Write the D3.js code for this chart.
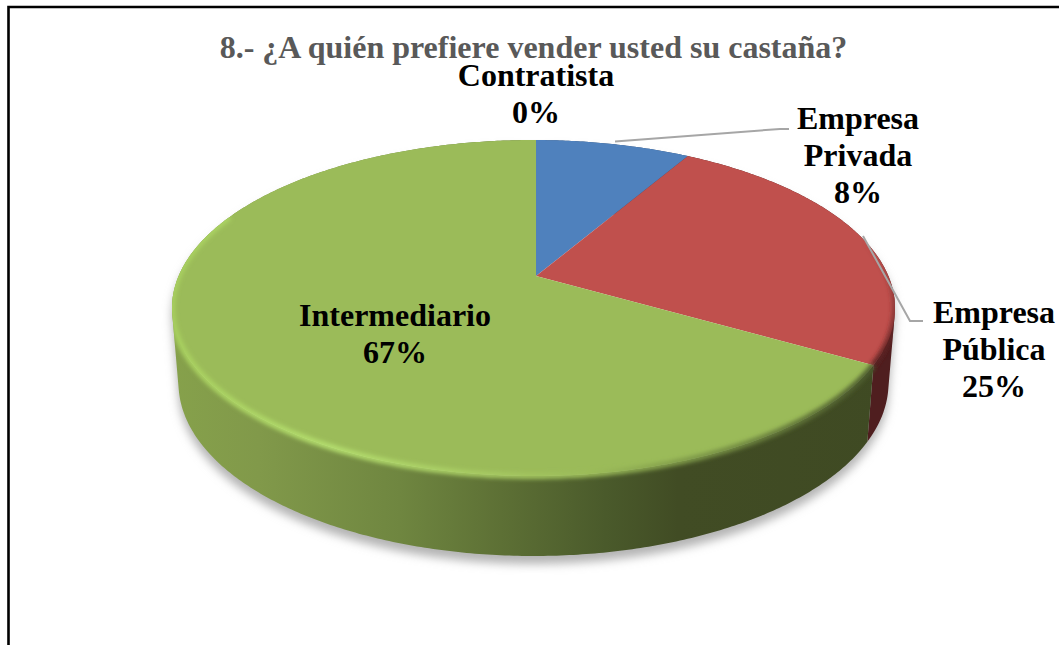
<!DOCTYPE html>
<html>
<head>
<meta charset="utf-8">
<style>
	html, body { margin: 0; padding: 0; background: #fff; }
	text { font-family: "Liberation Serif", serif; font-weight: bold; }
</style>
<script src="https://cdn.jsdelivr.net/npm/d3@7"></script>
</head>
<body>
<div id="chart"></div>
<script>
const titleText = '8.- ¿A quién prefiere vender usted su castaña?';
const categories = ['Contratista', 'Empresa Privada', 'Empresa Pública', 'Intermediario'];
const shares = [0, 8.33, 25, 66.67];
const percentLabels = ['0%', '8%', '25%', '67%'];
const faceColors = ['#8064a2', '#4f81bd', '#c0504d', '#9bbb59'];

const width = 1059;
const height = 645;

// disc outlines on screen; the disc is seen in perspective, so the apex sits off centre
const topDisc = {cx: 533.5, cy: 308, rx: 361.5, ry: 168};
const bottomDisc = {cx: 533.5, cy: 383, rx: 355, ry: 173};
const tiltY = 0.19;
const tiltX = 0.007;

const labelLayout = [
	{x: 536, y: 86, lines: ['Contratista', percentLabels[0]]},
	{x: 858, y: 129, lines: ['Empresa', 'Privada', percentLabels[1]]},
	{x: 994, y: 323, lines: ['Empresa', 'Pública', percentLabels[2]]},
	{x: 395, y: 326, lines: ['Intermediario', percentLabels[3]]}
];
const leaderLines = [
	[[615, 141.5], [780, 129], [789, 129]],
	[[863, 236], [910, 321], [923, 321]]
];

const svg = d3.select('#chart')
	.append('svg')
	.attr('width', width)
	.attr('height', height)
	.style('display', 'block');

const defs = svg.append('defs');

function project(disc, angle) {
	const u = Math.sin(angle);
	const v = Math.cos(angle);
	const w = 1 + tiltY * v;
	const x0 = u * Math.sqrt(1 - tiltY * tiltY) / w;
	const y0 = (v + tiltY) / w;
	const w2 = 1 + tiltX * x0;
	const x1 = (x0 + tiltX) / w2;
	const y1 = y0 * Math.sqrt(1 - tiltX * tiltX) / w2;
	return [disc.cx + disc.rx * x1, disc.cy - disc.ry * y1];
}

function arcPoints(disc, a0, a1) {
	const n = Math.max(2, Math.ceil((a1 - a0) / 0.01));
	return d3.range(n + 1).map(i => project(disc, a0 + (a1 - a0) * i / n));
}

const line = d3.line();
const apex = [topDisc.cx + topDisc.rx * tiltX, topDisc.cy - topDisc.ry * tiltY];

const slices = d3.pie().sort(null).value(d => d)(shares)
	.filter(d => d.endAngle > d.startAngle);

function facePath(d) {
	return line([apex, ...arcPoints(topDisc, d.startAngle, d.endAngle)]) + 'Z';
}

// one quad per arc step, all wound the same way so they fill as a single shape
function wallPath(d) {
	const upper = arcPoints(topDisc, d.startAngle, d.endAngle);
	const lower = arcPoints(bottomDisc, d.startAngle, d.endAngle);
	return d3.range(upper.length - 1).map(i => {
		const quad = [upper[i], upper[i + 1], lower[i + 1], lower[i]];
		if (d3.polygonArea(quad) < 0) quad.reverse();
		return line(quad) + 'Z';
	}).join('');
}

// filters and gradients
defs.append('filter').attr('id', 'soft').attr('x', '-20%').attr('y', '-20%').attr('width', '140%').attr('height', '140%')
	.append('feGaussianBlur').attr('stdDeviation', 5);
defs.append('filter').attr('id', 'rimBlur').attr('x', '-10%').attr('y', '-10%').attr('width', '120%').attr('height', '120%')
	.append('feGaussianBlur').attr('stdDeviation', 2.2);

function gradient(id, stops, attrs) {
	const g = defs.append('linearGradient')
		.attr('id', id)
		.attr('gradientUnits', 'userSpaceOnUse')
		.attr('x1', attrs.x1).attr('x2', attrs.x2)
		.attr('y1', attrs.y1).attr('y2', attrs.y2);
	g.selectAll('stop')
		.data(stops)
		.enter()
		.append('stop')
		.attr('offset', d => d[0])
		.attr('stop-color', d => d[1])
		.attr('stop-opacity', d => d[2] === undefined ? 1 : d[2]);
}

gradient('wallGreen', [
	[0, '#86a14b'], [0.12, '#81994a'], [0.315, '#6f8640'], [0.455, '#5d7035'], [0.6, '#4a5a2b'], [0.7, '#414c24'], [1, '#3f4a23']
], {x1: 172, x2: 895, y1: 0, y2: 0});
gradient('rimGreen', [
	[0, '#a8d05f'], [0.22, '#b4de6e'], [0.45, '#a6c962'], [0.58, '#9bbb59'], [0.72, '#7d9848'], [1, '#46532a']
], {x1: 172, x2: 895, y1: 0, y2: 0});
gradient('rimRed', [
	[0, '#6d2a2a', 0], [0.6, '#6d2a2a', 0.7], [1, '#5a2222', 1]
], {x1: 0, x2: 0, y1: 240, y2: 365});

// frame, runs off the right and bottom of the page
svg.append('path')
	.attr('d', line([[8.5, height], [8.5, 7], [width, 7]]))
	.attr('fill', 'none')
	.attr('stroke', '#000')
	.attr('stroke-width', 2.6);

// shadow under the pie
svg.append('g')
	.attr('filter', 'url(#soft)')
	.attr('transform', 'translate(0, 8)')
	.selectAll('path')
	.data(slices)
	.enter()
	.append('path')
	.attr('d', wallPath)
	.attr('fill', '#b4b4b4');

svg.append('g')
	.selectAll('path')
	.data(slices)
	.enter()
	.append('path')
	.attr('d', wallPath)
	.attr('fill', d => d.index === 3 ? 'url(#wallGreen)' : d.index === 2 ? '#4f1e1f' : '#2f4b70');

svg.append('g')
	.selectAll('path')
	.data(slices)
	.enter()
	.append('path')
	.attr('d', facePath)
	.attr('fill', d => faceColors[d.index]);

// bevel along the rim, kept inside the pie
const clip = defs.append('clipPath').attr('id', 'pieClip');
slices.forEach(d => {
	clip.append('path').attr('d', wallPath(d));
	clip.append('path').attr('d', facePath(d));
});

const rim = svg.append('g').attr('clip-path', 'url(#pieClip)');
const green = slices.find(d => d.index === 3);
const red = slices.find(d => d.index === 2);

rim.append('path')
	.attr('d', line(arcPoints(topDisc, green.startAngle, green.startAngle + (green.endAngle - green.startAngle) * 0.72)))
	.attr('fill', 'none')
	.attr('stroke', 'url(#rimGreen)')
	.attr('stroke-width', 6)
	.attr('filter', 'url(#rimBlur)');

rim.append('path')
	.attr('d', line(arcPoints(topDisc, red.startAngle + 0.5, red.endAngle)))
	.attr('fill', 'none')
	.attr('stroke', 'url(#rimRed)')
	.attr('stroke-width', 6)
	.attr('filter', 'url(#rimBlur)');

// leader lines
svg.append('g')
	.selectAll('path')
	.data(leaderLines)
	.enter()
	.append('path')
	.attr('d', d => line(d))
	.attr('fill', 'none')
	.attr('stroke', '#a6a6a6')
	.attr('stroke-width', 2);

svg.append('text')
	.attr('x', 533.5)
	.attr('y', 58)
	.attr('text-anchor', 'middle')
	.attr('font-size', 32)
	.attr('fill', '#595959')
	.text(titleText);

const labels = svg.append('g')
	.selectAll('text')
	.data(labelLayout)
	.enter()
	.append('text')
	.attr('text-anchor', 'middle')
	.attr('font-size', 32)
	.attr('fill', '#000');

labels.selectAll('tspan')
	.data(d => d.lines.map((t, i) => ({t, i, x: d.x, y: d.y})))
	.enter()
	.append('tspan')
	.attr('x', d => d.x)
	.attr('y', d => d.y + d.i * 37)
	.text(d => d.t);
</script>
</body>
</html>
